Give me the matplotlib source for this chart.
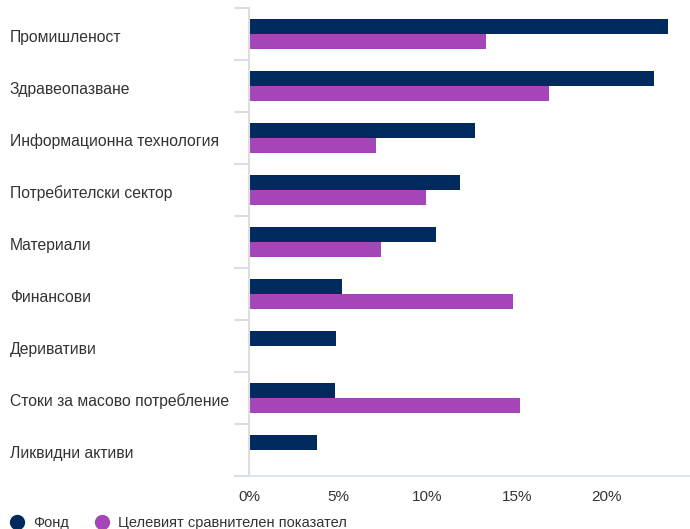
import numpy as np
import matplotlib.pyplot as plt
from matplotlib.lines import Line2D
from matplotlib.ticker import FuncFormatter
import matplotlib.transforms as mtransforms

plt.rcParams['font.family'] = ['Liberation Sans', 'DejaVu Sans']

navy = '#002a5e'
purple = '#a446b8'
gridcol = '#d9dee8'

categories = ['Промишленост', 'Здравеопазване', 'Информационна технология',
              'Потребителски сектор', 'Материали', 'Финансови', 'Деривативи',
              'Стоки за масово потребление', 'Ликвидни активи']
fund = [23.45, 22.7, 12.65, 11.8, 10.5, 5.2, 4.9, 4.8, 3.8]
bench = [13.3, 16.8, 7.1, 9.9, 7.4, 14.8, 0, 15.2, 0]
series_names = ['Фонд', 'Целевият сравнителен показател']

fig = plt.figure(figsize=(6.9, 5.29), dpi=100)
ax = fig.add_axes([249 / 690, 1 - 476 / 529, 1 - 249 / 690, 468 / 529])

y = np.arange(len(categories))
h = 0.29
ax.barh(y - h / 2, fund, height=h, color=navy)
ax.barh(y + h / 2, bench, height=h, color=purple)

ax.set_ylim(len(categories) - 0.5, -0.5)
ax.set_xlim(0, 24.7)
ax.set_xticks([0, 5, 10, 15, 20])
ax.xaxis.set_major_formatter(FuncFormatter(lambda v, p: f'{v:.0f}%'))

# category labels, left aligned near the figure edge
ax.set_yticks(y)
ax.set_yticklabels([])
trans = mtransforms.blended_transform_factory(fig.transFigure, ax.transData)
for yi, name in zip(y, categories):
    ax.text(10 / 690, yi + 0.06, name, transform=trans, ha='left', va='center',
            fontsize=11.3, color='#333333', clip_on=False)

ax.set_yticks(np.arange(len(categories) + 1) - 0.5, minor=True)
ax.tick_params(axis='y', which='major', length=0)
ax.tick_params(axis='y', which='minor', length=11, width=1.5, color=gridcol)
ax.tick_params(axis='x', length=0, pad=10, labelsize=11, labelcolor='#333333')

for s in ['top', 'right']:
    ax.spines[s].set_visible(False)
ax.spines['left'].set_color('#dddddd')
ax.spines['left'].set_linewidth(1.5)
ax.spines['bottom'].set_color(gridcol)
ax.spines['bottom'].set_linewidth(1.2)

handles = [Line2D([], [], marker='o', ls='', color=c, markersize=10) for c in (navy, purple)]
fig.legend(handles, series_names, loc='lower left', bbox_to_anchor=(-0.016, -0.026),
           ncol=2, frameon=False, fontsize=10.5, handletextpad=0.1, columnspacing=1.3,
           labelcolor='#333333')

fig.savefig('out.png', dpi=100)
